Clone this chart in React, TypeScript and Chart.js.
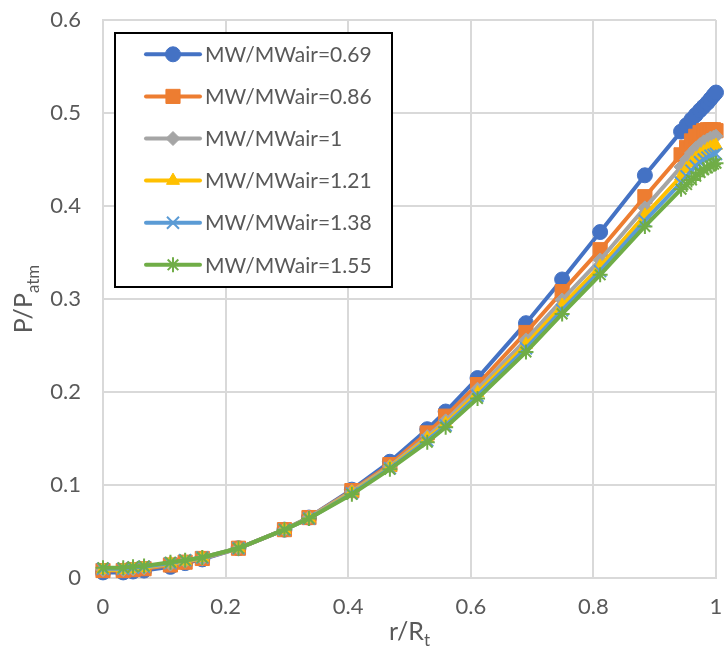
import React, { useEffect, useRef } from "react";
import { Chart, registerables } from "chart.js";
import { drawPoint } from "chart.js/helpers";

Chart.register(...registerables);

// r/Rt positions of the samples
const R = [
  0, 0.033, 0.049, 0.067, 0.11, 0.134, 0.162, 0.221, 0.296, 0.336, 0.406, 0.468,
  0.529, 0.559, 0.611, 0.69, 0.749, 0.811, 0.884, 0.943, 0.952, 0.96, 0.967,
  0.974, 0.98, 0.986, 0.991, 0.996, 1.0,
];

const MW_069 = [
  0.006, 0.006, 0.007, 0.008, 0.012, 0.016, 0.02, 0.032, 0.052, 0.065, 0.095, 0.125,
  0.16, 0.179, 0.215, 0.274, 0.321, 0.372, 0.433, 0.48, 0.487, 0.493, 0.498,
  0.503, 0.507, 0.511, 0.515, 0.519, 0.522,
];
const MW_086 = [
  0.008, 0.008, 0.009, 0.01, 0.014, 0.017, 0.021, 0.032, 0.052, 0.065, 0.094, 0.122,
  0.156, 0.174, 0.208, 0.264, 0.308, 0.353, 0.41, 0.455, 0.463, 0.47, 0.475,
  0.479, 0.481, 0.482, 0.482, 0.482, 0.481,
];
const MW_100 = [
  0.009, 0.009, 0.01, 0.011, 0.015, 0.018, 0.021, 0.032, 0.052, 0.065, 0.093, 0.12,
  0.152, 0.169, 0.203, 0.256, 0.299, 0.342, 0.398, 0.442, 0.45, 0.457, 0.462,
  0.466, 0.469, 0.471, 0.473, 0.474, 0.475,
];
const MW_121 = [
  0.009, 0.009, 0.01, 0.011, 0.016, 0.018, 0.022, 0.032, 0.052, 0.064, 0.092, 0.119,
  0.15, 0.166, 0.199, 0.251, 0.293, 0.335, 0.39, 0.432, 0.44, 0.446, 0.451,
  0.455, 0.458, 0.461, 0.463, 0.464, 0.465,
];
const MW_138 = [
  0.01, 0.01, 0.011, 0.012, 0.016, 0.019, 0.022, 0.032, 0.052, 0.064, 0.091, 0.118,
  0.148, 0.164, 0.196, 0.247, 0.288, 0.33, 0.384, 0.425, 0.432, 0.438, 0.443,
  0.447, 0.45, 0.452, 0.454, 0.455, 0.456,
];
const MW_155 = [
  0.011, 0.011, 0.012, 0.013, 0.017, 0.019, 0.022, 0.032, 0.052, 0.064, 0.09, 0.117,
  0.146, 0.162, 0.193, 0.243, 0.284, 0.326, 0.378, 0.418, 0.423, 0.428, 0.432,
  0.436, 0.439, 0.441, 0.443, 0.445, 0.446,
];

const SERIES_LABELS = [
  "MW/MWair=0.69",
  "MW/MWair=0.86",
  "MW/MWair=1",
  "MW/MWair=1.21",
  "MW/MWair=1.38",
  "MW/MWair=1.55",
];
const SERIES_VALUES = [MW_069, MW_086, MW_100, MW_121, MW_138, MW_155];

const X_TITLE = ["r/R", "t"];
const Y_TITLE = ["P/P", "atm"];

const COLORS = ["#4472C4", "#ED7D31", "#A5A5A5", "#FFC000", "#5B9BD5", "#70AD47"];
const STYLES = [
  { pointStyle: "circle", radius: 7.5, bw: 1 },
  { pointStyle: "rect", radius: 10, bw: 1 },
  { pointStyle: "rectRot", radius: 7, bw: 1 },
  { pointStyle: "triangle", radius: 7.5, bw: 1 },
  { pointStyle: "crossRot", radius: 8.5, bw: 2 },
  { pointStyle: "star", radius: 7.5, bw: 2 },
];

const FONT = "Lato";
const TEXT_COLOR = "#595959";
const GRID_COLOR = "#D9D9D9";

const titlePlugin = {
  id: "axisTitles",
  afterDraw(chart: any) {
    const ctx = chart.ctx;
    const ca = chart.chartArea;
    const main = `25px ${FONT}`;
    const sub = `17px ${FONT}`;
    ctx.save();
    ctx.fillStyle = TEXT_COLOR;
    ctx.textAlign = "left";
    ctx.textBaseline = "alphabetic";
    // x title
    ctx.font = main;
    const w1 = ctx.measureText(X_TITLE[0]).width;
    ctx.font = sub;
    const w2 = ctx.measureText(X_TITLE[1]).width;
    const cx = (ca.left + ca.right) / 2;
    const x0 = cx - (w1 + w2) / 2;
    ctx.font = main;
    ctx.fillText(X_TITLE[0], x0, 640);
    ctx.font = sub;
    ctx.fillText(X_TITLE[1], x0 + w1, 646);
    // y title
    ctx.font = main;
    const v1 = ctx.measureText(Y_TITLE[0]).width;
    ctx.font = sub;
    const v2 = ctx.measureText(Y_TITLE[1]).width;
    ctx.translate(32, (ca.top + ca.bottom) / 2);
    ctx.rotate(-Math.PI / 2);
    const y0 = -(v1 + v2) / 2;
    ctx.font = main;
    ctx.fillText(Y_TITLE[0], y0, 0);
    ctx.font = sub;
    ctx.fillText(Y_TITLE[1], y0 + v1, 7);
    ctx.restore();
  },
};

const legendPlugin = {
  id: "boxLegend",
  afterDraw(chart: any) {
    const ctx = chart.ctx;
    const bx = 115, by = 33, bw = 277, bh = 254;
    ctx.save();
    ctx.fillStyle = "#ffffff";
    ctx.fillRect(bx, by, bw, bh);
    ctx.strokeStyle = "#000000";
    ctx.lineWidth = 2;
    ctx.strokeRect(bx, by, bw, bh);
    const rowTop = 54.3;
    const rowGap = 42.1;
    SERIES_LABELS.forEach((label, i) => {
      const y = rowTop + i * rowGap;
      ctx.strokeStyle = COLORS[i];
      ctx.lineWidth = 4;
      ctx.lineCap = "round";
      ctx.beginPath();
      ctx.moveTo(146, y);
      ctx.lineTo(200, y);
      ctx.stroke();
      ctx.fillStyle = COLORS[i];
      ctx.strokeStyle = COLORS[i];
      ctx.lineWidth = STYLES[i].bw;
      ctx.lineCap = "butt";
      drawPoint(ctx, { pointStyle: STYLES[i].pointStyle, radius: STYLES[i].radius, rotation: 0, borderWidth: STYLES[i].bw }, 173, y);
      ctx.fillStyle = TEXT_COLOR;
      ctx.font = `21px ${FONT}`;
      ctx.textAlign = "left";
      ctx.textBaseline = "middle";
      ctx.fillText(label, 205, y + 1);
    });
    ctx.restore();
  },
};

export default function App() {
  const ref = useRef<HTMLCanvasElement | null>(null);
  useEffect(() => {
    if (!ref.current) return;
    const datasets = SERIES_LABELS.map((label, i) => ({
      label,
      data: R.map((x, k) => ({ x, y: SERIES_VALUES[i][k] })),
      borderColor: COLORS[i],
      backgroundColor: COLORS[i],
      borderWidth: 4,
      pointStyle: STYLES[i].pointStyle,
      pointRadius: STYLES[i].radius,
      pointBorderWidth: STYLES[i].bw,
      pointBackgroundColor: COLORS[i],
      pointBorderColor: COLORS[i],
      showLine: true,
      tension: 0,
      clip: false,
      order: SERIES_LABELS.length - i,
    }));
    const chart = new Chart(ref.current, {
      type: "line",
      data: { datasets },
      options: {
        animation: false,
        responsive: false,
        devicePixelRatio: 1,
        layout: { padding: { top: 20, right: 7, left: 0, bottom: 0 } },
        plugins: { legend: { display: false }, tooltip: { enabled: false } },
        scales: {
          x: {
            type: "linear",
            min: 0,
            max: 1,
            ticks: {
              stepSize: 0.2,
              padding: 16,
              color: TEXT_COLOR,
              font: { family: FONT, size: 22 },
              callback: (v: any) => String(Number(Number(v).toFixed(1))),
              maxRotation: 0,
            },
            grid: { color: GRID_COLOR, lineWidth: 2, drawTicks: false },
            border: { color: GRID_COLOR, width: 2 },
            afterFit: (s: any) => {
              s.height = 77;
              s.paddingLeft = 0;
              s.paddingRight = 0;
              s.paddingTop = 0;
              s.paddingBottom = 0;
            },
          },
          y: {
            type: "linear",
            min: 0,
            max: 0.6,
            ticks: {
              stepSize: 0.1,
              padding: 22,
              color: TEXT_COLOR,
              font: { family: FONT, size: 22 },
              callback: (v: any) => String(Number(Number(v).toFixed(1))),
            },
            grid: { color: GRID_COLOR, lineWidth: 2, drawTicks: false },
            border: { color: GRID_COLOR, width: 2 },
            afterFit: (s: any) => {
              s.width = 103;
              s.paddingLeft = 0;
              s.paddingRight = 0;
              s.paddingTop = 0;
              s.paddingBottom = 0;
            },
          },
        },
      },
      plugins: [titlePlugin, legendPlugin],
    } as any);
    return () => chart.destroy();
  }, []);
  return (
    <canvas
      ref={ref}
      width={727}
      height={655}
      style={{ position: "fixed", left: 0, top: 0 }}
    />
  );
}
